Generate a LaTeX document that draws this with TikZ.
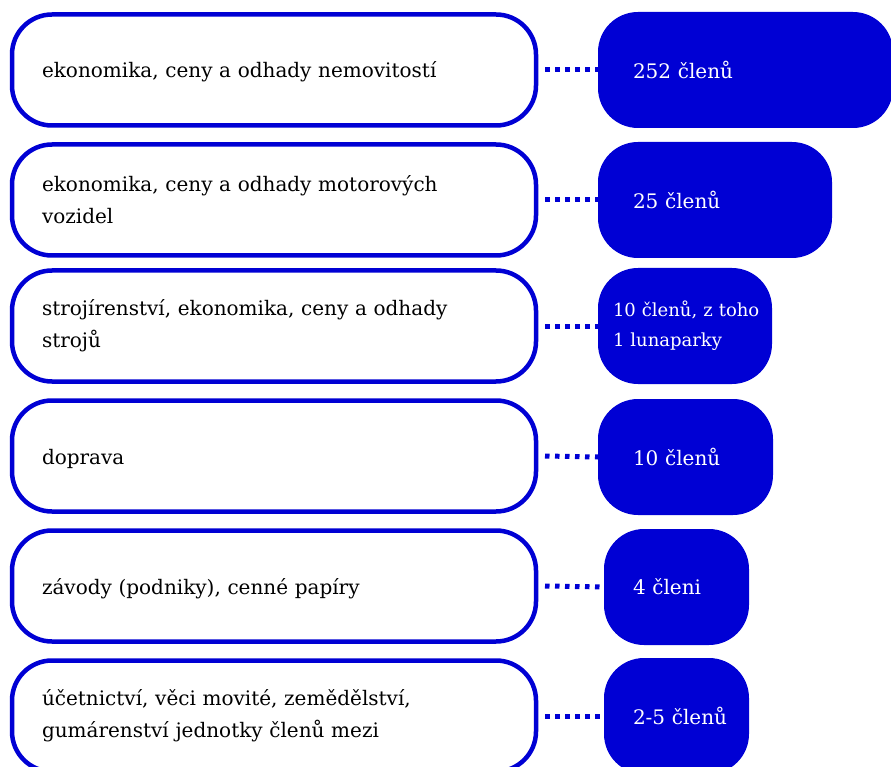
\documentclass[tikz,border=0pt]{standalone}
\usepackage{fontspec}
\setmainfont{DejaVu Serif}
\definecolor{cblue}{RGB}{0,0,212}
\begin{document}
\begin{tikzpicture}[x=1pt,y=-1pt,
  lbox/.style={draw=cblue, line width=4.5pt, rounded corners=40pt, fill=white,
    minimum width=524pt, minimum height=111pt, inner xsep=30pt, inner ysep=0pt,
    text width=464pt, align=left, anchor=west, outer sep=0pt,
    font=\fontsize{20}{32}\selectfont},
  oneline/.style={text height=21pt, text depth=5pt},
  rbox/.style={fill=cblue, rounded corners=40pt, minimum height=116pt,
    inner ysep=0pt, anchor=west, align=left, text=white, outer sep=0pt,
    font=\fontsize{20}{32}\selectfont},
  conn/.style={draw=cblue, line width=5pt, dash pattern=on 4.5pt off 5.5pt}]
\useasboundingbox (0,0) rectangle (891,767);

\node[lbox, oneline] (l1) at (12,70) {ekonomika, ceny a odhady nemovitostí};
\node[lbox] (l2) at (12,200) {ekonomika, ceny a odhady motorových\\vozidel};
\node[lbox] (l3) at (12,326) {strojírenství, ekonomika, ceny a odhady\\strojů};
\node[lbox, oneline] (l4) at (12,456) {doprava};
\node[lbox, oneline] (l5) at (12,586) {závody (podniky), cenné papíry};
\node[lbox] (l6) at (12,716) {účetnictví, věci movité, zemědělství,\\gumárenství jednotky členů mezi};

\node[rbox, minimum width=295pt, inner xsep=35pt, text width=225pt] (r1) at (598,70) {\mbox{252 členů}};
\node[rbox, minimum width=234pt, inner xsep=35pt, text width=164pt] (r2) at (598,200) {\mbox{25 členů}};
\node[rbox, minimum width=174pt, inner xsep=15pt, text width=144pt,
  font=\fontsize{18}{30}\selectfont] (r3) at (598,326) {\mbox{10 členů, z toho}\\\mbox{1 lunaparky}};
\node[rbox, minimum width=175pt, inner xsep=35pt, text width=105pt] (r4) at (598,457) {\mbox{10 členů}};
\node[rbox, minimum width=145pt, inner xsep=29pt, text width=87pt] (r5) at (604,587) {\mbox{4 členi}};
\node[rbox, minimum width=145pt, inner xsep=29pt, text width=87pt] (r6) at (604,716) {\mbox{2-5 členů}};

\foreach \i in {1,...,6}{
  \draw[conn] ([xshift=9pt]l\i.east) -- (r\i.west);
}
\end{tikzpicture}
\end{document}
